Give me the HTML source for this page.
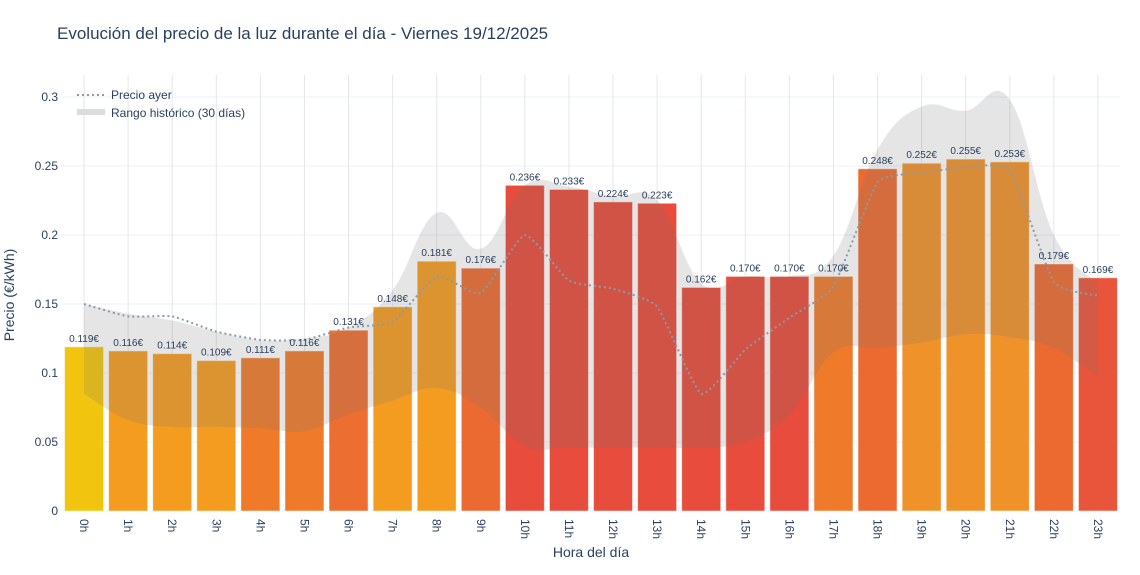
<!DOCTYPE html>
<html><head><meta charset="utf-8"><style>
body{margin:0;background:#fff;font-family:"Liberation Sans","DejaVu Sans",sans-serif;}
svg text{font-family:"Liberation Sans","DejaVu Sans",sans-serif;fill:#2a3f5f;}
</style></head><body>
<svg id="chart" width="1140" height="570" xmlns="http://www.w3.org/2000/svg">
<text x="57" y="39" font-size="17">Evolución del precio de la luz durante el día - Viernes 19/12/2025</text>
<g id="grid"></g><g id="bars"></g><g id="band"></g><g id="line"></g><g id="labels"></g><g id="axes"></g>
<g>
<line x1="77" y1="95" x2="105" y2="95" stroke="#8a9aa6" stroke-width="2" stroke-dasharray="2,3"/>
<text x="111" y="99" font-size="12">Precio ayer</text>
<rect x="77" y="109" width="28" height="6" fill="#dcdcdc"/>
<text x="111" y="117" font-size="12">Rango histórico (30 días)</text>
</g>
<text transform="translate(14,295) rotate(-90)" text-anchor="middle" font-size="14">Precio (€/kWh)</text>
<text x="591" y="557" text-anchor="middle" font-size="14">Hora del día</text>
</svg>
<script>
const hours=["0h","1h","2h","3h","4h","5h","6h","7h","8h","9h","10h","11h","12h","13h","14h","15h","16h","17h","18h","19h","20h","21h","22h","23h"];
const prices=[0.119,0.116,0.114,0.109,0.111,0.116,0.131,0.148,0.181,0.176,0.236,0.233,0.224,0.223,0.162,0.170,0.170,0.170,0.248,0.252,0.255,0.253,0.179,0.169];
const yesterday=[0.150,0.141,0.141,0.130,0.124,0.124,0.133,0.137,0.170,0.158,0.200,0.167,0.161,0.148,0.085,0.117,0.140,0.163,0.238,0.245,0.249,0.247,0.166,0.156];
const bandHigh=[0.150,0.143,0.138,0.130,0.124,0.125,0.133,0.160,0.216,0.190,0.236,0.235,0.228,0.225,0.165,0.170,0.170,0.185,0.262,0.293,0.290,0.298,0.200,0.165];
const bandLow=[0.085,0.066,0.061,0.061,0.060,0.058,0.070,0.080,0.089,0.075,0.047,0.046,0.046,0.046,0.046,0.050,0.070,0.115,0.118,0.122,0.128,0.126,0.118,0.097];
const barColors=["#f1c40f","#f39c1f","#f39c1f","#f39c1f","#ee7a2a","#ee7a2a","#ec6e30","#f39c1f","#f39c1f","#ea6a32","#e74c3c","#e74c3c","#e74c3c","#e74c3c","#e74c3c","#e74c3c","#e74c3c","#ee7a2a","#ec6a30","#f0922a","#f0922a","#f0922a","#ec6a30","#e9553a"];
const yTicks=[0,0.05,0.1,0.15,0.2,0.25,0.3];
const yTickLabels=["0","0.05","0.1","0.15","0.2","0.25","0.3"];
const NS="http://www.w3.org/2000/svg";
const L=62,R=1120,Y0=511,S=1380;
const step=(R-L)/hours.length;
const X=i=>L+step*(i+0.5);
const Y=v=>Y0-v*S;
function mk(tag,attrs,parent){const e=document.createElementNS(NS,tag);for(const k in attrs)e.setAttribute(k,attrs[k]);document.getElementById(parent).appendChild(e);return e;}
function spline(pts,t){let d="M"+pts[0][0]+","+pts[0][1];for(let i=0;i<pts.length-1;i++){const p0=pts[Math.max(0,i-1)],p1=pts[i],p2=pts[i+1],p3=pts[Math.min(pts.length-1,i+2)];d+=" C"+(p1[0]+(p2[0]-p0[0])*t)+","+(p1[1]+(p2[1]-p0[1])*t)+" "+(p2[0]-(p3[0]-p1[0])*t)+","+(p2[1]-(p3[1]-p1[1])*t)+" "+p2[0]+","+p2[1];}return d;}
yTicks.forEach((v,i)=>{
 const g=mk("line",{x1:L,x2:R,y1:Y(v),y2:Y(v),stroke:"#ebf0f8","stroke-width":1},"grid");
 
 
 const t=mk("text",{x:L-4,y:Y(v)+4,"text-anchor":"end","font-size":12},"axes");
 t.textContent=yTickLabels[i];
 
 
});
hours.forEach((h,i)=>{
 const g=mk("line",{x1:X(i),x2:X(i),y1:75,y2:Y0,stroke:"#e4e6ea","stroke-width":1},"grid");
 
 
 const b=mk("rect",{x:X(i)-19.5,y:Y(prices[i]),width:39,height:prices[i]*S,fill:barColors[i],stroke:"rgba(255,255,255,0.5)","stroke-width":1},"bars");
 
 
 const t=mk("text",{x:X(i),y:Y(prices[i])-5,"text-anchor":"middle","font-size":10},"labels");
 t.textContent=prices[i].toFixed(3)+"€";
 
 
 const xt=mk("text",{transform:"translate("+(X(i)-4)+","+(Y0+8)+") rotate(90)","font-size":12},"axes");
 xt.textContent=h;
 
 
});
const up=bandHigh.map((v,i)=>[X(i),Y(v)]),lo=bandLow.map((v,i)=>[X(i),Y(v)]).reverse();
const dl=spline(lo,0.2).replace(/^M/,"L");
const band=mk("path",{d:spline(up,0.2)+" "+dl+" Z",fill:"rgba(115,115,115,0.19)"},"band");


const ln=mk("path",{d:spline(yesterday.map((v,i)=>[X(i),Y(v)]),0.08),fill:"none",stroke:"#8a9aa6","stroke-width":2,"stroke-dasharray":"2,3"},"line");


</script>
</body></html>
